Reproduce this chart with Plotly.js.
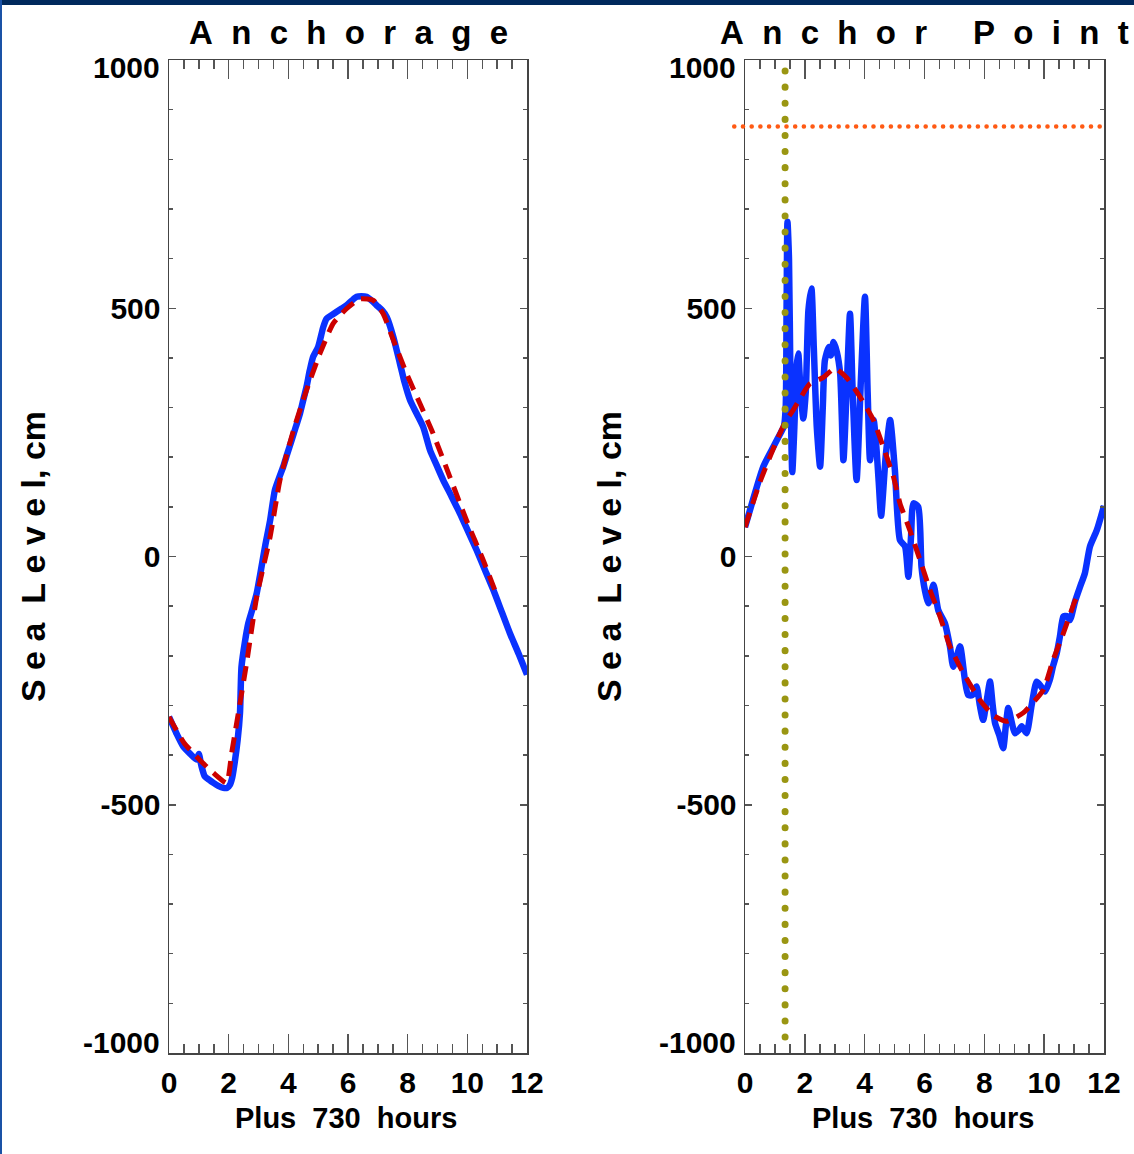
<!DOCTYPE html>
<html>
<head>
<meta charset="utf-8">
<script src="https://cdn.plot.ly/plotly-3.0.1.min.js"></script>
<style>
  html, body { margin:0; padding:0; background:#fff; }
  #wrap { position:relative; width:1134px; height:1154px; overflow:hidden; }
  #chart { position:absolute; left:0; top:0; width:1134px; height:1154px; }
  #topbar { position:absolute; left:0; top:0; width:1134px; height:5px; background:#00295c; z-index:5; }
  #leftbar { position:absolute; left:0; top:0; width:2px; height:1154px; background:#1a52a6; z-index:5; }
  .shapelayer path { stroke-linecap: round; }
</style>
</head>
<body>
<div id="wrap">
  <div id="chart"></div>
  <div id="topbar"></div>
  <div id="leftbar"></div>
</div>
<script>
// ---------- data ----------
const panelTitles = ['Anchorage', 'Anchor Point'];
const xAxisLabel = 'Plus 730 hours';
const yAxisLabel = 'Sea Level, cm';

// Anchorage observed (hours, cm)
const anchorageHours = [0, 0.24, 0.48, 0.72, 0.93, 1.0, 1.08, 1.2, 1.35, 1.49, 1.65, 1.82, 1.95, 2.04, 2.12, 2.2, 2.3, 2.38, 2.43, 2.55, 2.66, 2.8, 2.94, 3.08, 3.22, 3.39, 3.55, 3.7, 3.83, 3.97, 4.11, 4.25, 4.39, 4.5, 4.61, 4.72, 4.83, 5.0, 5.17, 5.28, 5.45, 5.62, 5.8, 5.95, 6.12, 6.29, 6.45, 6.62, 6.8, 6.96, 7.14, 7.3, 7.52, 7.74, 7.9, 8.08, 8.3, 8.52, 8.75, 8.97, 9.19, 9.47, 9.75, 10.03, 10.31, 10.59, 10.87, 11.15, 11.43, 11.72, 12];
const anchorageLevel = [-323, -355, -383, -398, -409, -398, -420, -443, -450, -456, -462, -466, -466, -460, -445, -416, -370, -315, -222, -170, -134, -105, -74, -28, 20, 73, 134, 160, 181, 208, 234, 261, 288, 315, 342, 375, 402, 422, 462, 479, 486, 493, 500, 506, 515, 523, 524, 523, 515, 506, 496, 482, 442, 389, 350, 315, 288, 261, 214, 184, 154, 121, 87, 50, 13, -27, -67, -111, -155, -196, -238];

// Anchorage predicted tide
const anchorageFitHours = [0, 0.5, 1.0, 1.49, 1.93, 2.1, 2.35, 2.6, 2.94, 3.39, 3.72, 4.17, 4.61, 5.06, 5.5, 5.95, 6.4, 6.85, 7.18, 7.52, 7.96, 8.41, 8.85, 9.41, 9.97, 10.53, 11.0];
const anchorageFit = [-323, -375, -408, -436, -456, -396, -306, -215, -81, 40, 154, 254, 335, 409, 469, 499, 519, 516, 489, 436, 369, 308, 248, 161, 73, -7, -80];

// Anchor Point observed
const anchorPointHours = [0, 0.28, 0.61, 0.95, 1.2, 1.3, 1.36, 1.39, 1.42, 1.47, 1.52, 1.58, 1.65, 1.72, 1.78, 1.85, 1.95, 2.03, 2.12, 2.22, 2.3, 2.4, 2.51, 2.6, 2.67, 2.8, 2.87, 2.96, 3.07, 3.18, 3.29, 3.4, 3.51, 3.6, 3.73, 3.87, 4.01, 4.1, 4.18, 4.3, 4.38, 4.47, 4.55, 4.7, 4.85, 5.01, 5.18, 5.35, 5.46, 5.55, 5.63, 5.79, 5.9, 6.02, 6.13, 6.3, 6.46, 6.68, 6.85, 6.96, 7.08, 7.19, 7.35, 7.46, 7.6, 7.74, 7.85, 7.96, 8.08, 8.19, 8.28, 8.36, 8.5, 8.63, 8.72, 8.8, 8.92, 9.02, 9.15, 9.25, 9.41, 9.58, 9.75, 9.9, 10.03, 10.19, 10.3, 10.42, 10.53, 10.64, 10.75, 10.86, 11.03, 11.2, 11.36, 11.53, 11.76, 12];
const anchorPointLevel = [59, 117, 181, 221, 250, 262, 300, 500, 674, 600, 350, 170, 260, 380, 409, 340, 278, 330, 496, 540, 420, 260, 181, 300, 395, 422, 405, 432, 412, 369, 194, 340, 489, 330, 154, 350, 523, 330, 194, 275, 230, 150, 82, 200, 275, 174, 33, 20, -41, 40, 107, 100, -21, -70, -94, -57, -108, -134, -181, -222, -200, -181, -248, -279, -279, -262, -300, -329, -290, -252, -300, -336, -360, -386, -340, -305, -335, -356, -350, -342, -356, -300, -252, -262, -272, -248, -220, -195, -160, -121, -120, -128, -91, -61, -34, 20, 53, 102];

// Anchor Point predicted tide
const anchorPointFitHours = [0, 0.5, 1.0, 1.34, 1.61, 2.17, 2.6, 3.01, 3.4, 3.84, 4.29, 4.62, 4.96, 5.18, 5.51, 5.85, 6.18, 6.52, 6.85, 7.3, 7.85, 8.3, 8.75, 9.3, 9.97, 10.3, 10.64, 11.0, 11.1];
const anchorPointFit = [59, 150, 225, 270, 295, 348, 360, 379, 360, 322, 275, 221, 161, 107, 53, -7, -67, -121, -181, -235, -289, -320, -332, -315, -269, -208, -155, -94, -80];

// reference markers on the Anchor Point panel
const arrivalHour = [1.34];
const thresholdLevel = [866];

// ticks
const xTickVals = [0, 2, 4, 6, 8, 10, 12];
const yTickVals = [-1000, -500, 0, 500, 1000];
const yInnerLabels = ['-500', '0', '500'];
const yEndLabels = ['1000', '-1000'];
// end labels sit slightly inside the axis ends (as in the original plot)
const yEndLabelVals = [984, -979];

// ---------- styling ----------
const BLUE = '#0a32ff', RED = '#cc0000', OLIVE = '#9a9612', ORANGE = '#ff5a14';
const FONT = 'Liberation Sans, Arial, sans-serif';
const spaced = (s, gap) => s.split(' ').map(w => w.split('').join(gap)).join(gap + gap + '\u00a0');
const tickFont = { family: FONT, size: 30, weight: 'bold', color: '#000' };

function xAxis(domain, anchor) {
  return {
    domain, anchor, range: [0, 12], tickvals: xTickVals, ticktext: xTickVals.map(String),
    ticks: 'inside', ticklen: 19, tickwidth: 1.5, tickcolor: '#555',
    showline: true, linecolor: '#444', linewidth: 1.5, mirror: 'ticks',
    showgrid: false, zeroline: false, ticklabelstandoff: 2,
    tickfont: tickFont,
    minor: { dtick: 0.5, tick0: 0, ticks: 'inside', ticklen: 9, tickwidth: 1.5, tickcolor: '#555', showgrid: false },
    fixedrange: true
  };
}
function yAxis(domain, anchor) {
  return {
    domain, anchor, range: [-1000, 1000], tickvals: yTickVals,
    ticktext: yTickVals.map(v => (yInnerLabels.includes(String(v)) ? String(v) : '')),
    ticks: 'inside', ticklen: 7, tickwidth: 1.5, tickcolor: '#555',
    showline: true, linecolor: '#444', linewidth: 1.5, mirror: 'ticks',
    showgrid: false, zeroline: false, ticklabelstandoff: 1,
    tickfont: tickFont,
    minor: { dtick: 100, tick0: 0, ticks: 'inside', ticklen: 4, tickwidth: 1.5, tickcolor: '#555', showgrid: false },
    fixedrange: true
  };
}

const obsLine = { color: BLUE, width: 6.5, shape: 'spline', smoothing: 0.6 };
const fitLine = { color: RED, width: 5, dash: '15px,9px', shape: 'spline', smoothing: 0.5 };

const traces = [
  { x: anchorageHours, y: anchorageLevel, xaxis: 'x', yaxis: 'y', mode: 'lines', line: obsLine, hoverinfo: 'skip' },
  { x: anchorageFitHours, y: anchorageFit, xaxis: 'x', yaxis: 'y', mode: 'lines', line: fitLine, hoverinfo: 'skip' },
  { x: anchorPointHours, y: anchorPointLevel, xaxis: 'x2', yaxis: 'y2', mode: 'lines', line: obsLine, hoverinfo: 'skip' },
  { x: anchorPointFitHours, y: anchorPointFit, xaxis: 'x2', yaxis: 'y2', mode: 'lines', line: fitLine, hoverinfo: 'skip' }
];

const L = { l: 169, r: 527 }, R = { l: 745, r: 1104 };
const W = 1134, H = 1154, TOP = 60, BOT = 1053;
const yDom = [1 - BOT / H, 1 - TOP / H];

function ann(text, xpx, ypx, size, extra) {
  return Object.assign({ text, xref: 'paper', yref: 'paper', x: xpx / W, y: 1 - ypx / H,
    xanchor: 'center', yanchor: 'middle', showarrow: false,
    font: { family: FONT, size, weight: 'bold', color: '#000' } }, extra || {});
}
function endLabel(text, val, yref, rightPx) {
  return { text, xref: 'paper', yref, x: rightPx / W, y: val, xanchor: 'right', yanchor: 'middle',
    showarrow: false, font: tickFont };
}
const yTitle = 'S\u00a0e\u00a0a\u00a0\u00a0L\u00a0e\u00a0v\u00a0e\u00a0l, cm';

const layout = {
  width: W, height: H, margin: { l: 0, r: 0, t: 0, b: 0 },
  paper_bgcolor: '#fff', plot_bgcolor: '#fff', showlegend: false,
  xaxis: xAxis([L.l / W, L.r / W], 'y'),
  yaxis: yAxis(yDom, 'x'),
  xaxis2: xAxis([R.l / W, R.r / W], 'y2'),
  yaxis2: yAxis(yDom, 'x2'),
  shapes: [
    { type: 'line', xref: 'x2', yref: 'y2 domain', x0: arrivalHour[0], x1: arrivalHour[0], y0: 0.016, y1: 1,
      line: { color: OLIVE, width: 7, dash: '0.1px,16px' }, layer: 'above' },
    { type: 'line', xref: 'x2 domain', yref: 'y2', x0: -0.03, x1: 1, y0: thresholdLevel[0], y1: thresholdLevel[0],
      line: { color: ORANGE, width: 4.5, dash: '0.1px,8.6px' }, layer: 'above' }
  ],
  annotations: [
    ann(spaced(panelTitles[0], '\u00a0\u00a0'), (L.l + L.r) / 2, 33, 33),
    ann(spaced(panelTitles[1], '\u00a0\u00a0'), (R.l + R.r) / 2, 33, 33),
    ann(xAxisLabel.replace(/ /g, '\u00a0\u00a0'), (L.l + L.r) / 2 - 2, 1118, 29),
    ann(xAxisLabel.replace(/ /g, '\u00a0\u00a0'), (R.l + R.r) / 2 - 2, 1118, 29),
    ann(yTitle, 33, 557, 34, { textangle: -90 }),
    ann(yTitle, 609, 557, 34, { textangle: -90 }),
    endLabel(yEndLabels[0], yEndLabelVals[0], 'y', 162),
    endLabel(yEndLabels[1], yEndLabelVals[1], 'y', 162),
    endLabel(yEndLabels[0], yEndLabelVals[0], 'y2', 738),
    endLabel(yEndLabels[1], yEndLabelVals[1], 'y2', 738)
  ]
};

Plotly.newPlot('chart', traces, layout, { staticPlot: true, displayModeBar: false });
</script>
</body>
</html>
